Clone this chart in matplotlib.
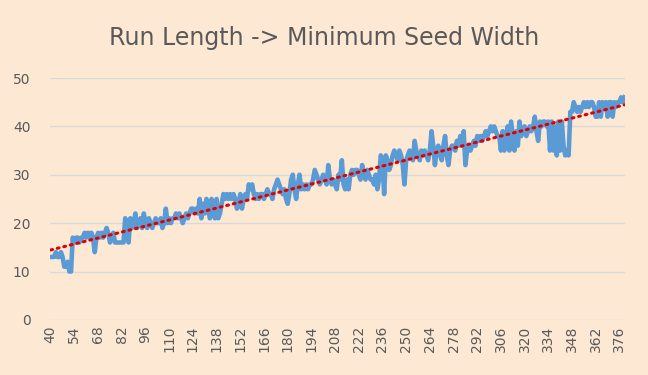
import numpy as np
import matplotlib
matplotlib.use("Agg")
import matplotlib.pyplot as plt

# run length categories 40..379
run_length = list(range(40, 380))

# minimum seed width (one row per 14 categories)
seed_width = [
    13, 13, 13, 14, 13, 13, 14, 13, 11, 11, 12, 10, 10, 17,
    16, 17, 17, 16, 17, 17, 18, 17, 18, 17, 18, 17, 14, 17,
    18, 17, 18, 17, 18, 19, 18, 16, 17, 18, 16, 16, 16, 16,
    16, 16, 21, 20, 16, 21, 19, 20, 22, 19, 20, 21, 19, 22,
    20, 19, 21, 20, 19, 20, 21, 20, 20, 21, 19, 20, 23, 20,
    21, 20, 21, 21, 22, 21, 22, 21, 20, 21, 22, 21, 22, 23,
    23, 22, 23, 22, 25, 21, 24, 22, 25, 23, 21, 25, 22, 21,
    25, 21, 22, 24, 26, 25, 26, 25, 26, 25, 26, 25, 23, 24,
    26, 23, 25, 26, 25, 28, 27, 28, 26, 25, 26, 25, 26, 26,
    25, 26, 27, 26, 26, 25, 27, 28, 29, 28, 27, 26, 27, 25,
    24, 26, 29, 30, 27, 25, 28, 30, 27, 28, 27, 28, 27, 28,
    28, 29, 31, 30, 29, 28, 29, 30, 29, 28, 32, 29, 28, 29,
    28, 27, 30, 29, 33, 28, 27, 29, 27, 30, 31, 30, 31, 31,
    30, 29, 32, 30, 29, 31, 30, 29, 29, 28, 30, 27, 29, 34,
    33, 26, 34, 33, 31, 32, 34, 35, 34, 33, 35, 34, 32, 28,
    33, 34, 35, 34, 33, 37, 35, 34, 33, 35, 34, 35, 34, 33,
    35, 39, 36, 32, 35, 36, 34, 33, 36, 38, 34, 32, 35, 36,
    36, 35, 37, 36, 38, 36, 39, 32, 35, 36, 35, 36, 37, 36,
    38, 37, 38, 37, 38, 39, 38, 39, 40, 39, 40, 39, 38, 38,
    35, 39, 35, 38, 40, 35, 41, 38, 35, 39, 36, 41, 38, 39,
    40, 38, 39, 40, 39, 40, 42, 39, 37, 41, 40, 41, 41, 40,
    41, 35, 41, 35, 40, 34, 41, 35, 41, 36, 34, 35, 34, 43,
    43, 45, 44, 43, 44, 43, 44, 45, 44, 45, 44, 45, 45, 44,
    42, 42, 45, 42, 45, 44, 45, 42, 45, 45, 42, 45, 44, 45,
    45, 46, 45, 46,
]

bg = "#FDE8D4"
grey = "#595959"

x = np.arange(len(run_length))
y = np.array(seed_width)

fig = plt.figure(figsize=(6.48, 3.75), dpi=100, facecolor=bg)
ax = fig.add_axes([0.077, 0.147, 0.888, 0.645], facecolor=bg)

ax.plot(x, y, color="#5B9BD5", lw=3.3, solid_joinstyle="round", zorder=2)

# linear trendline
k, m = np.polyfit(x, y, 1)
ax.plot(x, k * x + m, color="#E00000", lw=2.2, linestyle=(0, (0.6, 1.6)),
        dash_capstyle="round", zorder=3)

ax.set_xlim(-0.5, len(x) - 0.5)
ax.set_ylim(0, 50)
ax.set_yticks(range(0, 51, 10))
ax.set_xticks(x[::14])
ax.set_xticklabels([str(v) for v in run_length[::14]], rotation=90)
ax.grid(axis="y", color="#D9D9D9", lw=1)
ax.set_axisbelow(True)
for s in ax.spines.values():
    s.set_visible(False)
ax.tick_params(length=0, colors=grey, labelsize=10)
ax.tick_params(axis="y", pad=14)
ax.tick_params(axis="x", pad=4)

fig.suptitle("Run Length -> Minimum Seed Width", color=grey, fontsize=17,
             y=0.9, va="center")

fig.savefig("out.png", dpi=100, facecolor=bg)
